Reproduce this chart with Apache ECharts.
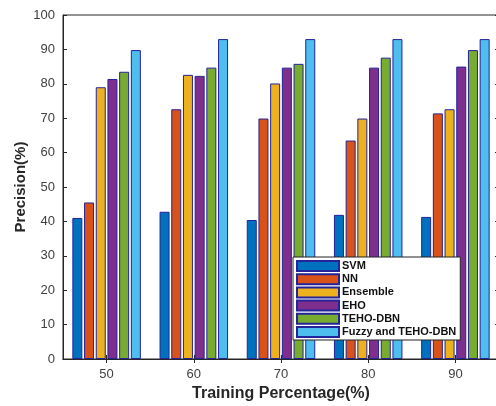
<!DOCTYPE html>
<html>
<head>
<meta charset="utf-8">
<script src="https://cdn.jsdelivr.net/npm/echarts@6/dist/echarts.min.js"></script>
<style>
  html, body { margin: 0; padding: 0; background: #fff; }
  #chart { width: 496px; height: 406px; }
</style>
</head>
<body>
<div id="chart"></div>
<script>
// Training percentages on the x axis
const categories = ['50', '60', '70', '80', '90'];

// Precision (%) per method
const svm      = [41.0, 42.8, 40.4, 41.9, 41.3];
const nn       = [45.5, 72.6, 69.9, 63.5, 71.4];
const ensemble = [79.0, 82.6, 80.1, 69.9, 72.6];
const eho      = [81.4, 82.3, 84.7, 84.7, 85.0];
const tehoDbn  = [83.5, 84.7, 85.8, 87.6, 89.8];
const fuzzy    = [89.8, 93.0, 93.0, 93.0, 93.0];

const seriesNames = ['SVM', 'NN', 'Ensemble', 'EHO', 'TEHO-DBN', 'Fuzzy and TEHO-DBN'];
const seriesValues = [svm, nn, ensemble, eho, tehoDbn, fuzzy];
const colors = ['#0072BD', '#D95319', '#EDB120', '#7E2F8E', '#77AC30', '#4DBEEE'];

const yTicks = [0, 10, 20, 30, 40, 50, 60, 70, 80, 90, 100];

const font = '"Liberation Sans", Arial, sans-serif';
const axisColor = '#262626';
const labelColor = '#404040';

const chart = echarts.init(document.getElementById('chart'), null, { renderer: 'canvas' });

const series = seriesNames.map((name, i) => ({
  name: name,
  type: 'bar',
  data: seriesValues[i],
  barWidth: 10,
  barGap: '17%',
  itemStyle: { color: colors[i], borderColor: '#23239a', borderWidth: 1 }
}));

chart.setOption({
  animation: false,
  backgroundColor: '#fff',
  grid: {
    left: 63, top: 15, width: 436, height: 344,
    show: true, borderColor: axisColor, borderWidth: 1,
    containLabel: false,
    outerBoundsMode: 'none'
  },
  legend: {
    data: seriesNames,
    orient: 'vertical',
    left: 293, top: 257,
    backgroundColor: '#fff',
    borderColor: '#222',
    borderWidth: 1,
    padding: [3, 4, 2, 3],
    icon: 'rect',
    itemWidth: 42, itemHeight: 10, itemGap: 1.2,
    textStyle: { fontFamily: font, fontSize: 11, fontWeight: 'bold', color: '#111', padding: [0, 0, 0, -2] }
  },
  xAxis: [
    {
      type: 'category',
      data: categories,
      position: 'bottom',
      name: 'Training Percentage(%)',
      nameLocation: 'middle',
      nameGap: 27,
      nameMoveOverlap: false,
      nameTextStyle: { fontFamily: font, fontSize: 16, fontWeight: 'bold', color: '#262626' },
      axisLine: { show: true, lineStyle: { color: axisColor, width: 1 } },
      axisTick: { show: true, inside: true, alignWithLabel: true, length: 4, lineStyle: { color: axisColor } },
      axisLabel: { fontFamily: font, fontSize: 13, color: labelColor, margin: 9 },
      splitLine: { show: false }
    },
    {
      type: 'category',
      data: categories,
      position: 'top',
      axisLine: { show: true, lineStyle: { color: axisColor, width: 1 } },
      axisTick: { show: true, inside: true, alignWithLabel: true, length: 4, lineStyle: { color: axisColor } },
      axisLabel: { show: false },
      splitLine: { show: false }
    }
  ],
  yAxis: [
    {
      type: 'value',
      min: yTicks[0], max: yTicks[yTicks.length - 1], interval: 10,
      position: 'left',
      name: 'Precision(%)',
      nameLocation: 'middle',
      nameGap: 35,
      nameMoveOverlap: false,
      nameTextStyle: { fontFamily: font, fontSize: 15, fontWeight: 'bold', color: '#262626' },
      axisLine: { show: true, lineStyle: { color: axisColor, width: 1 } },
      axisTick: { show: true, inside: true, length: 4, lineStyle: { color: axisColor } },
      axisLabel: { fontFamily: font, fontSize: 13, color: labelColor, margin: 8 },
      splitLine: { show: false }
    },
    {
      type: 'value',
      min: yTicks[0], max: yTicks[yTicks.length - 1], interval: 10,
      position: 'right',
      axisLine: { show: true, lineStyle: { color: axisColor, width: 1 } },
      axisTick: { show: true, inside: true, length: 4, lineStyle: { color: axisColor } },
      axisLabel: { show: false },
      splitLine: { show: false }
    }
  ],
  series: series
});
</script>
</body>
</html>
